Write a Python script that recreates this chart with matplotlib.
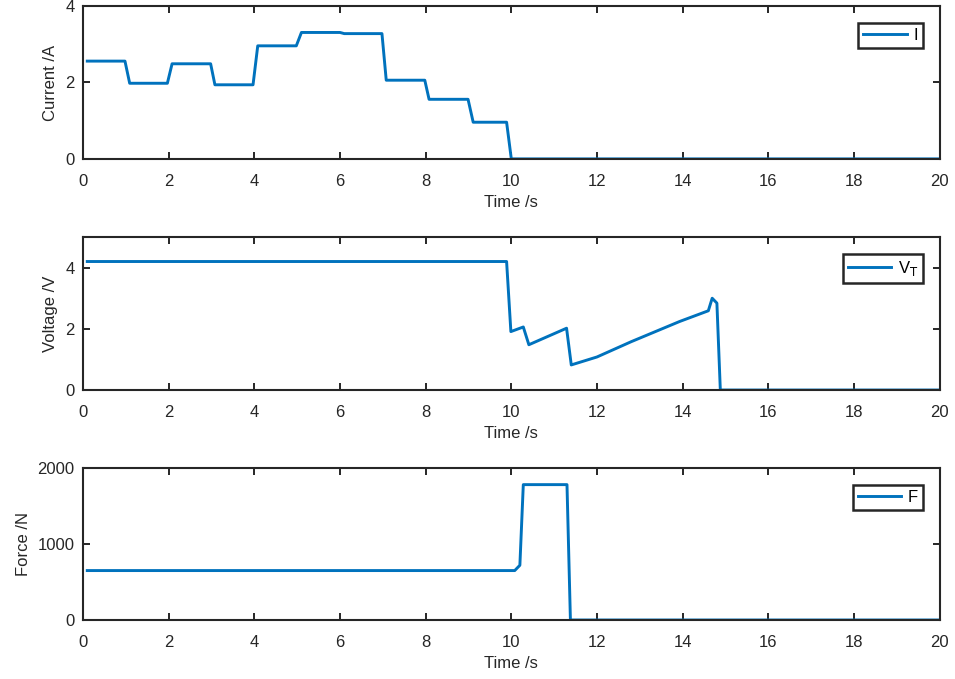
import matplotlib.pyplot as plt

plt.rcParams['font.family'] = ['Liberation Sans', 'DejaVu Sans']
plt.rcParams['font.size'] = 12
plt.rcParams['axes.edgecolor'] = '#262626'
plt.rcParams['axes.labelcolor'] = '#262626'
plt.rcParams['xtick.color'] = '#262626'
plt.rcParams['ytick.color'] = '#262626'

blue = '#0072BD'

# current profile (step changes each second)
t_I = [0.1, 0.98, 1.09, 1.97, 2.08, 2.98, 3.08, 3.97, 4.08, 4.98, 5.1, 6.0, 6.1,
       6.98, 7.08, 7.98, 8.08, 8.99, 9.11, 9.89, 10.0, 20]
I = [2.56, 2.56, 1.98, 1.98, 2.49, 2.49, 1.94, 1.94, 2.96, 2.96, 3.31, 3.31, 3.28,
     3.28, 2.06, 2.06, 1.56, 1.56, 0.96, 0.96, 0.0, 0.0]

# terminal voltage
t_V = [0.1, 9.89, 9.99, 10.28, 10.41, 11.29, 11.4, 12.0, 12.8, 13.93, 14.6, 14.69,
       14.8, 14.88, 20]
V = [4.2, 4.2, 1.91, 2.06, 1.48, 2.02, 0.82, 1.08, 1.58, 2.24, 2.59, 3.0,
     2.84, 0.0, 0.0]

# force
t_F = [0.1, 10.08, 10.2, 10.28, 11.3, 11.38, 20]
F = [650, 650, 720, 1780, 1780, 0, 0]

fig = plt.figure(figsize=(9.55, 6.79), dpi=100)

panels = [
    (t_I, I, 'Current /A', 'I', (0, 4), [0, 2, 4], [0.0869, 0.766, 0.897, 0.225]),
    (t_V, V, 'Voltage /V', 'V$_\\mathrm{T}$', (0, 5), [0, 2, 4], [0.0869, 0.4256, 0.897, 0.2253]),
    (t_F, F, 'Force /N', 'F', (0, 2000), [0, 1000, 2000], [0.0869, 0.0869, 0.897, 0.224]),
]

for t, y, ylab, lab, ylim, yt, rect in panels:
    ax = fig.add_axes(rect)
    ax.plot(t, y, color=blue, lw=2.1, label=lab)
    ax.set_xlim(0, 20)
    ax.set_ylim(*ylim)
    ax.set_xticks(range(0, 21, 2))
    ax.set_yticks(yt)
    ax.set_xlabel('Time /s', labelpad=4)
    ax.set_ylabel(ylab, labelpad=5)
    ax.tick_params(direction='in', top=True, right=True, length=5, width=1.4)
    ax.tick_params(axis='x', pad=11)
    ax.tick_params(axis='y', pad=6)
    for s in ax.spines.values():
        s.set_linewidth(1.5)
    leg = ax.legend(loc='upper right', fancybox=False, framealpha=1,
                    handlelength=2.6, handletextpad=0.4, borderpad=0.3,
                    borderaxespad=1.0)
    leg.get_frame().set_edgecolor('#262626')
    leg.get_frame().set_linewidth(1.8)

plt.savefig('out.png', dpi=100)
